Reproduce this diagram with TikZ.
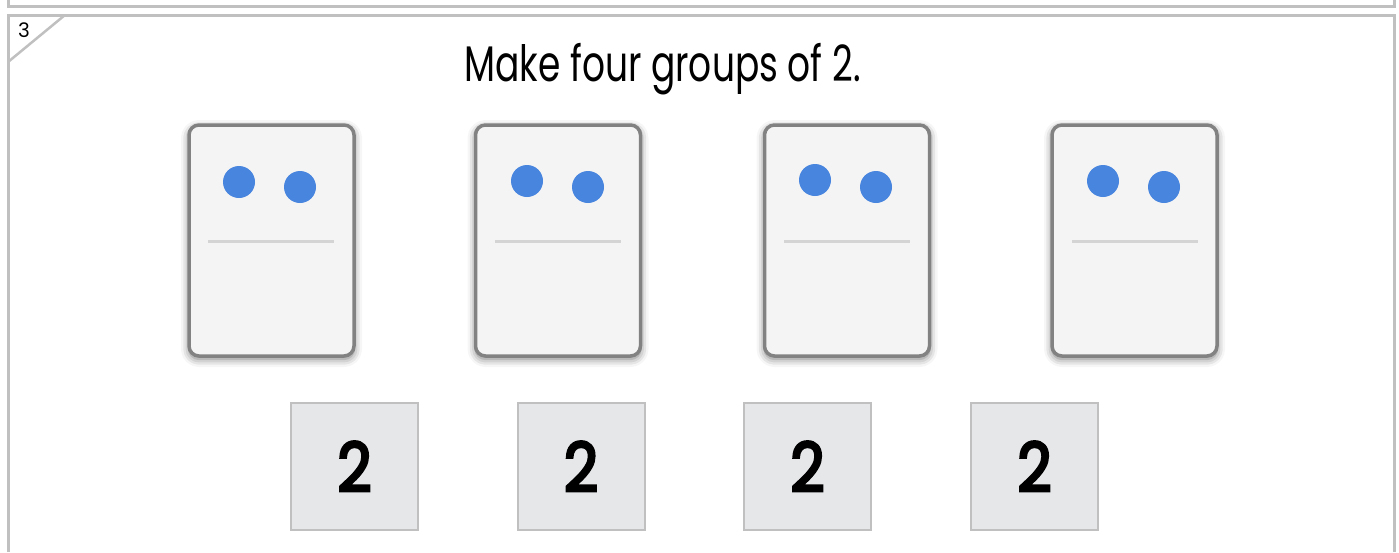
\documentclass[tikz,border=0pt]{standalone}
\usepackage{fontspec}
\usepackage{graphicx}
\setmainfont{Poppins}
\newfontfamily\tilefont{Poppins}[FakeBold=4]
\usepackage{tikz}
\usetikzlibrary{positioning,calc}
\usetikzlibrary{shadows.blur}
\definecolor{FrameGray}{RGB}{192,192,192}
\definecolor{CardFill}{RGB}{244,244,244}
\definecolor{CardRim}{RGB}{130,130,130}
\definecolor{DotBlue}{RGB}{72,133,222}
\definecolor{RuleGray}{RGB}{212,212,212}
\definecolor{TileFill}{RGB}{230,231,233}
\definecolor{TileEdge}{RGB}{192,192,192}
\newcommand{\tilenum}[1]{\scalebox{0.88}[1]{#1}}
\tikzset{
  frame/.style={draw=FrameGray,line width=3pt},
  card/.style={rectangle,rounded corners=10pt,draw=CardRim,fill=CardFill,line width=3.5pt,
    minimum width=165pt,minimum height=231pt,inner sep=0pt,
    blur shadow={shadow xshift=0pt,shadow yshift=-3pt,shadow blur radius=8pt,shadow opacity=55}},
  dot/.style={circle,fill=DotBlue,inner sep=0pt,minimum size=32pt},
  rule/.style={draw=RuleGray,line width=3pt},
  tile/.style={rectangle,draw=TileEdge,fill=TileFill,line width=2pt,minimum size=127pt,inner sep=0pt,
    font=\tilefont\fontsize{68}{70}\selectfont},
}

\begin{document}
\begin{tikzpicture}[x=1pt,y=-1pt]
\useasboundingbox (0,0) rectangle (1399,552);
% page frames
\draw[frame] (8,0)--(8,6)--(1394,6)--(1394,0);
\draw[frame] (8,552)--(8,15)--(1394,15)--(1394,552);
\draw[frame,line width=2.5pt] (8,62)--(65,15);
\node[font=\fontsize{20}{20}\selectfont] (num) at (24,30) {3};
\node[anchor=base,font=\fontsize{50}{52}\selectfont,xscale=0.72] (title) at (662.5,81) {Make four groups of 2.};
% cards
\node[card] (c1) at (271.5,240.5) {};
\node[card] (c2) at (558,240.5) {};
\node[card] (c3) at (847,240.5) {};
\node[card] (c4) at (1134.5,240.5) {};
\node[dot] (c1a) at ($(c1)+(-32.5,-58.5)$) {};
\node[dot] (c1b) at ($(c1)+(28.5,-53.5)$) {};
\node[dot] (c2a) at ($(c2)+(-31,-59.5)$) {};
\node[dot] (c2b) at ($(c2)+(30,-53.5)$) {};
\node[dot] (c3a) at ($(c3)+(-32,-60.5)$) {};
\node[dot] (c3b) at ($(c3)+(29,-53.5)$) {};
\node[dot] (c4a) at ($(c4)+(-31.5,-59.5)$) {};
\node[dot] (c4b) at ($(c4)+(29.5,-53.5)$) {};
\draw[rule] ($(c1)+(-63.5,0.5)$)--($(c1)+(62.5,0.5)$);
\draw[rule] ($(c2)+(-63,0.5)$)--($(c2)+(63,0.5)$);
\draw[rule] ($(c3)+(-63,0.5)$)--($(c3)+(63,0.5)$);
\draw[rule] ($(c4)+(-63,0.5)$)--($(c4)+(63,0.5)$);
% number tiles
\node[tile] (t1) at (354.5,466.5) {\tilenum{2}};
\node[tile] (t2) at (581,466.5) {\tilenum{2}};
\node[tile] (t3) at (807.5,466.5) {\tilenum{2}};
\node[tile] (t4) at (1034.5,466.5) {\tilenum{2}};
\end{tikzpicture}
\end{document}
